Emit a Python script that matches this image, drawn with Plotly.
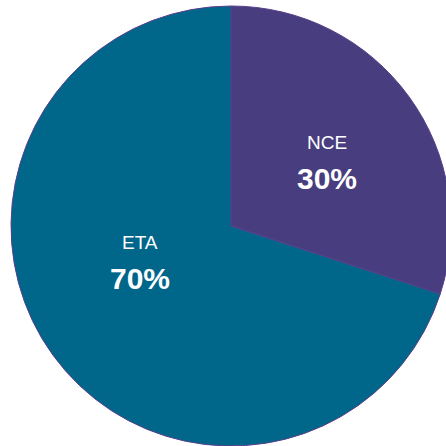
import plotly.graph_objects as go

labels = ["NCE", "ETA"]
values = [30, 70]
colors = ["#473D7F", "#00668A"]

# label placement (pixel centres in the figure) for each slice: (x, name_y, pct_y)
label_pos = [(327, 143, 179), (140, 242, 278)]

W, H = 460, 446
FONT = "Liberation Sans, Arial, sans-serif"
fig = go.Figure(go.Pie(
    labels=labels,
    values=values,
    sort=False,
    direction="clockwise",
    rotation=0,
    marker=dict(colors=colors, line=dict(color="#5A3F8C", width=1)),
    textinfo="none",
    showlegend=False,
    hoverinfo="skip",
    domain=dict(x=[11 / W, 451 / W], y=[0, 440 / H]),
))

total = sum(values)
annotations = []
for lab, val, (px, ny, py) in zip(labels, values, label_pos):
    annotations.append(dict(
        text=lab, x=px / W, y=1 - ny / H, xref="paper", yref="paper",
        xanchor="center", yanchor="middle", showarrow=False,
        font=dict(family=FONT, size=19, color="white")))
    annotations.append(dict(
        text=f"<b>{round(100 * val / total)}%</b>", x=px / W, y=1 - py / H,
        xref="paper", yref="paper", xanchor="center", yanchor="middle",
        showarrow=False, font=dict(family=FONT, size=30, color="white")))

fig.update_layout(
    width=W, height=H,
    margin=dict(l=0, r=0, t=0, b=0),
    paper_bgcolor="white",
    plot_bgcolor="white",
    annotations=annotations,
)
fig.write_html("out.html", config={"displayModeBar": False},
               post_script="document.body.style.margin='0';document.body.style.overflow='hidden';document.documentElement.style.overflow='hidden';")
